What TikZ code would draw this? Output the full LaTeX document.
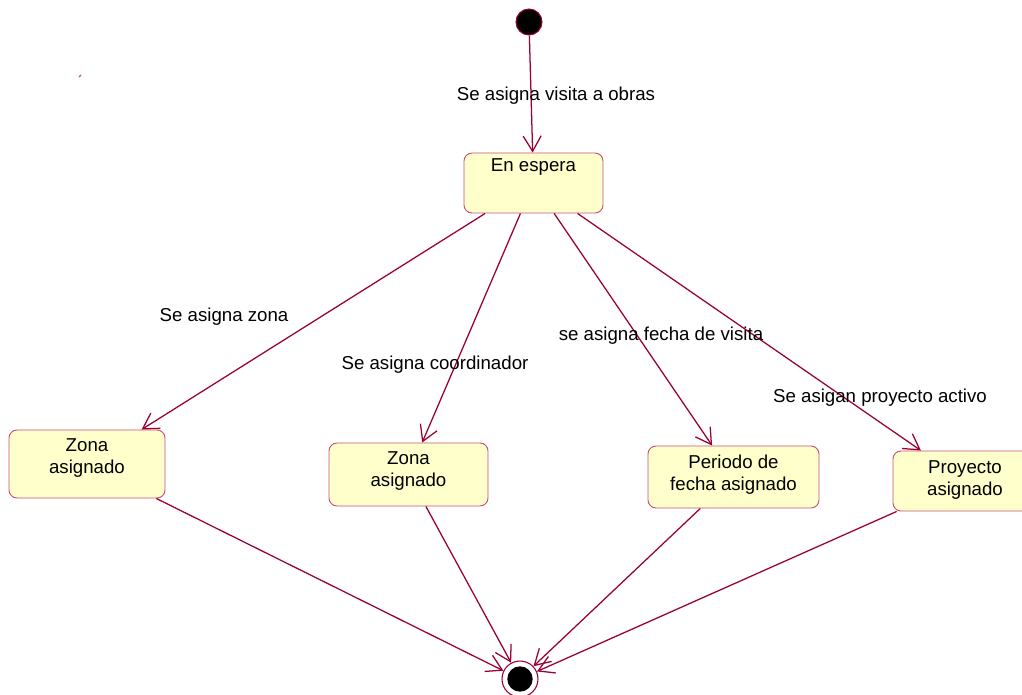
\documentclass[tikz,border=0pt]{standalone}
\usepackage{fontspec}
\setmainfont{Liberation Sans}
\usetikzlibrary{arrows.meta}
\definecolor{lnc}{HTML}{990033}
\definecolor{bdc}{HTML}{C8507A}
\definecolor{fillc}{HTML}{FFFFCC}
\begin{document}
\begin{tikzpicture}[x=0.75pt,y=-0.75pt,
  state/.style={draw=bdc, fill=fillc, rounded corners=6pt, line width=0.7pt, inner sep=0pt},
  stxt/.style={font=\fontsize{14}{16.5}\selectfont, align=center, inner sep=0pt, anchor=center},
  tr/.style={draw=lnc, line width=0.95pt, -{Straight Barb[length=11.5pt,width=13.5pt,line width=0.95pt]}},
  lbl/.style={font=\fontsize{14}{17}\selectfont, inner sep=0pt}]
\useasboundingbox (0,0) rectangle (1022,695);
\clip (0,0) rectangle (1022,695);

% states
\node[circle, draw=lnc, fill=black, minimum size=19.5pt, inner sep=0pt, line width=0.8pt] (init) at (529,22) {};
\node[state, minimum width=104.25pt, minimum height=45pt,
      label={[lbl, anchor=center, yshift=-10.5pt]north:En espera}] (espera) at (533.5,183) {};
\node[state, minimum width=117pt, minimum height=51pt,
      label={[stxt, yshift=4.5pt]center:Zona\\asignado}] (zona1) at (87,464) {};
\node[state, minimum width=119.25pt, minimum height=47.25pt,
      label={[stxt, yshift=2.25pt]center:Zona\\asignado}] (zona2) at (408.5,474.5) {};
\node[state, minimum width=128.25pt, minimum height=46.5pt,
      label={[stxt, yshift=1.9pt]center:Periodo de\\fecha asignado}] (periodo) at (733.5,477) {};
\node[state, minimum width=108pt, minimum height=45pt,
      label={[stxt, yshift=1.1pt]center:Proyecto\\asignado}] (proyecto) at (965,481) {};
\node[circle, draw=lnc, fill=white, minimum size=27pt, inner sep=0pt, line width=0.8pt] (final) at (520,679) {};
\node[circle, fill=black, minimum size=19pt, inner sep=0pt] (finalin) at (520,679) {};

% stray mark
\draw[bdc, line width=0.8pt] (79,77) -- (81,75);

% transitions
\draw[tr] (init) -- (espera);
\draw[tr] (espera) -- (zona1);
\draw[tr] (espera) -- (zona2);
\draw[tr] (espera) -- (periodo);
\draw[tr] (espera) -- (proyecto);
\draw[tr] (zona1) -- (final);
\draw[tr] (zona2) -- (final);
\draw[tr] (periodo) -- (final);
\draw[tr] (proyecto) -- (final);

% labels
\node[lbl] (l0) at (556,96) {Se asigna visita a obras};
\node[lbl] (l1) at (224,317) {Se asigna zona};
\node[lbl] (l2) at (435,365) {Se asigna coordinador};
\node[lbl] (l3) at (661,336) {se asigna fecha de visita};
\node[lbl] (l4) at (880,398) {Se asigan proyecto activo};
\end{tikzpicture}
\end{document}
